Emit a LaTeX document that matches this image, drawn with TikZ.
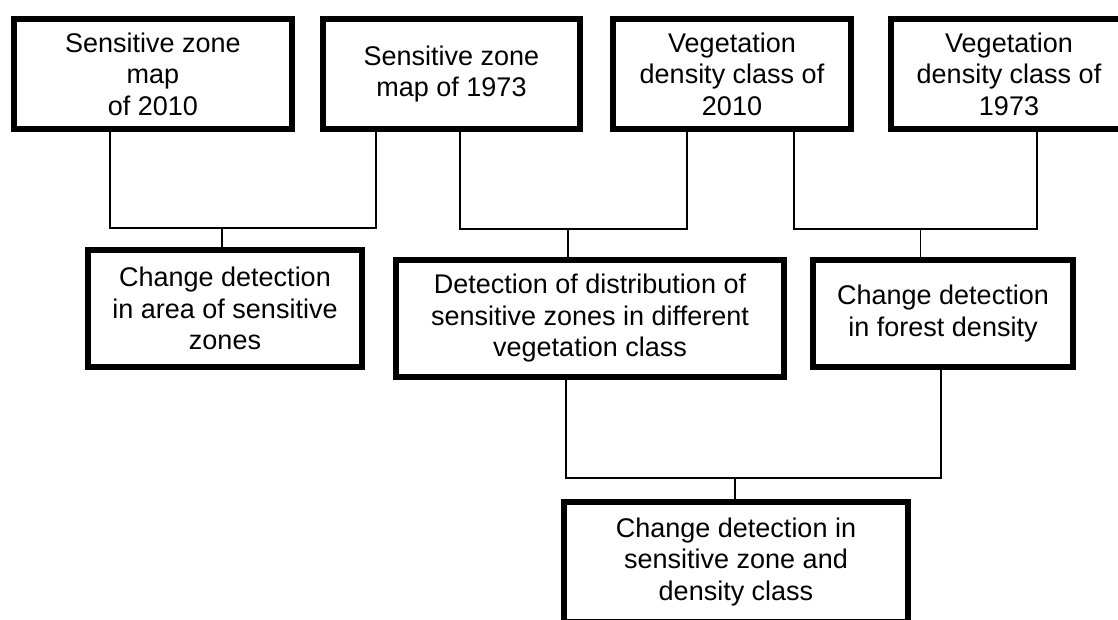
\documentclass[tikz,border=0pt]{standalone}
\usepackage{fontspec}
\setmainfont{Liberation Sans}
\begin{document}
\begin{tikzpicture}[
    x=1pt, y=-1pt,
    szbox/.style  = {draw, line width=6pt, align=center, inner sep=0pt,
                     font=\fontsize{27}{31.5}\selectfont},
    szlink/.style = {line width=1.5pt}]

  \useasboundingbox (0,0) rectangle (1118,619);
  \clip (0,0) rectangle (1118,619);

  %% ---- input maps ----------------------------------------------------
  \node[szbox, minimum width=278, minimum height=110] (map10) at (153,74)
    {Sensitive zone\\map\\of 2010};
  \node[szbox, minimum width=257, minimum height=110] (map73) at (451.5,74)
    {Sensitive zone\\map of 1973};
  \node[szbox, minimum width=238, minimum height=110] (veg10) at (732,74)
    {Vegetation\\density class of\\2010};
  \node[szbox, minimum width=236, minimum height=110] (veg73) at (1009,74)
    {Vegetation\\density class of\\1973};

  %% ---- first results -------------------------------------------------
  \node[szbox, minimum width=274, minimum height=117] (areachg) at (225,308.5)
    {Change detection\\in area of sensitive\\zones};
  \node[szbox, minimum width=388, minimum height=117] (distrib) at (590,318.5)
    {Detection of distribution of\\sensitive zones in different\\vegetation class};
  \node[szbox, minimum width=260, minimum height=107] (forchg) at (943,313.5)
    {Change detection\\in forest density};

  %% ---- final result --------------------------------------------------
  \node[szbox, minimum width=344, minimum height=120] (final) at (736,562)
    {Change detection in\\sensitive zone and\\density class};

  %% ---- joints --------------------------------------------------------
  \coordinate (jmap)  at (222,228);
  \coordinate (jmix)  at (568,229);
  \coordinate (jveg)  at (920.5,229);
  \coordinate (jres)  at (735,478);

  \draw[szlink] ([xshift=-43pt]map10.south) |- (jmap) -| ([xshift=-75.5pt]map73.south);
  \draw[szlink] (jmap) -- (jmap |- areachg.north);

  \draw[szlink] ([xshift=8.5pt]map73.south) |- (jmix) -| ([xshift=-45pt]veg10.south);
  \draw[szlink] (jmix) -- (jmix |- distrib.north);

  \draw[szlink] ([xshift=62pt]veg10.south) |- (jveg) -| ([xshift=28pt]veg73.south);
  \draw[szlink] (jveg) -- (jveg |- forchg.north);

  \draw[szlink] ([xshift=-24pt]distrib.south) |- (jres) -| ([xshift=-2pt]forchg.south);
  \draw[szlink] (jres) -- (jres |- final.north);
\end{tikzpicture}
\end{document}
